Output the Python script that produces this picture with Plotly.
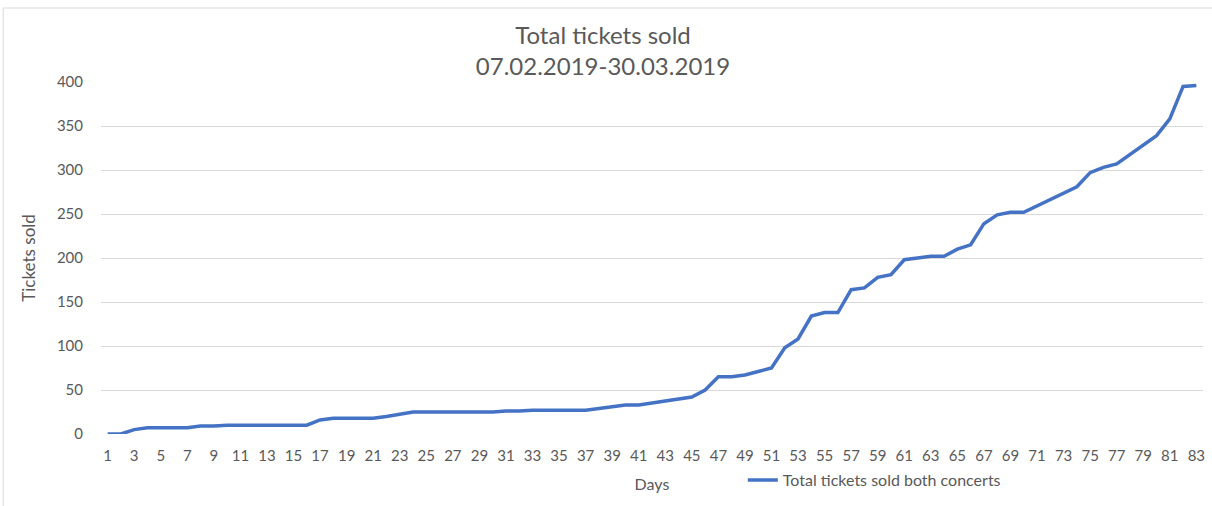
import plotly.graph_objects as go

days = list(range(1, 84))
tickets = [
    0, 0, 5, 7, 7, 7, 7, 9, 9, 10,
    10, 10, 10, 10, 10, 10, 16, 18, 18, 18,
    18, 20, 23, 25, 25, 25, 25, 25, 25, 25,
    26, 26, 27, 27, 27, 27, 27, 29, 31, 33,
    33, 35, 38, 40, 42, 50, 65, 65, 67, 71,
    75, 98, 108, 134, 138, 138, 164, 166, 178, 181,
    198, 200, 202, 202, 210, 215, 239, 249, 252, 252,
    259, 266, 274, 281, 297, 303, 307, 318, 329, 339,
    358, 395, 396,
]
tick_days = list(range(1, 84, 2))
y_ticks = [0, 50, 100, 150, 200, 250, 300, 350, 400]

FONT = "Lato"
TXT = "#595959"

fig = go.Figure()
fig.add_trace(go.Scatter(
    x=days, y=tickets, mode="lines",
    name="Total tickets sold both concerts",
    line=dict(color="#4472C4", width=3.5),
))

L, R, T, B = 101, 7, 82, 72
W, H = 1212, 506
pw, ph = W - L - R, H - T - B

def px(x):
    return (x - L) / pw

def py(y):
    return (H - B - y) / ph

fig.add_shape(type="rect", xref="paper", yref="paper",
              x0=px(3), x1=px(1230), y0=py(8), y1=py(530),
              line=dict(color="#d9d9d9", width=1), layer="below")

fig.update_layout(
    width=W, height=H,
    margin=dict(l=L, r=R, t=T, b=B),
    paper_bgcolor="white", plot_bgcolor="white",
    font=dict(family=FONT, color=TXT, size=15),
    title=dict(text="Total tickets sold<br>07.02.2019-30.03.2019",
               xref="container", x=603 / W, xanchor="center",
               y=1 - 44 / H, yanchor="middle",
               font=dict(family=FONT, size=24, color=TXT)),
    showlegend=True,
    legend=dict(orientation="h", x=px(744), xanchor="left",
                y=py(480), yanchor="middle",
                font=dict(family=FONT, size=16, color=TXT),
                bgcolor="rgba(0,0,0,0)"),
    xaxis=dict(range=[0.5, 83.5], tickmode="array", tickvals=tick_days,
               ticktext=[str(d) for d in tick_days],
               showgrid=False, zeroline=False, showline=False,
               ticks="outside", ticklen=8, tickcolor="rgba(0,0,0,0)",
               tickfont=dict(size=15, color=TXT),
               title=dict(text="Days", standoff=15,
                          font=dict(size=16, color=TXT))),
    yaxis=dict(range=[0, 400], tickmode="array", tickvals=y_ticks,
               showgrid=True, gridcolor="#d9d9d9", gridwidth=1,
               zeroline=False, showline=False,
               ticks="outside", ticklen=14, tickcolor="rgba(0,0,0,0)",
               tickfont=dict(size=15, color=TXT),
               title=dict(text="Tickets sold", standoff=16,
                          font=dict(size=17, color=TXT))),
)

fig.write_html("out.html",
               config={"displayModeBar": False},
               post_script="document.body.style.margin='0';document.body.style.overflow='hidden';")
